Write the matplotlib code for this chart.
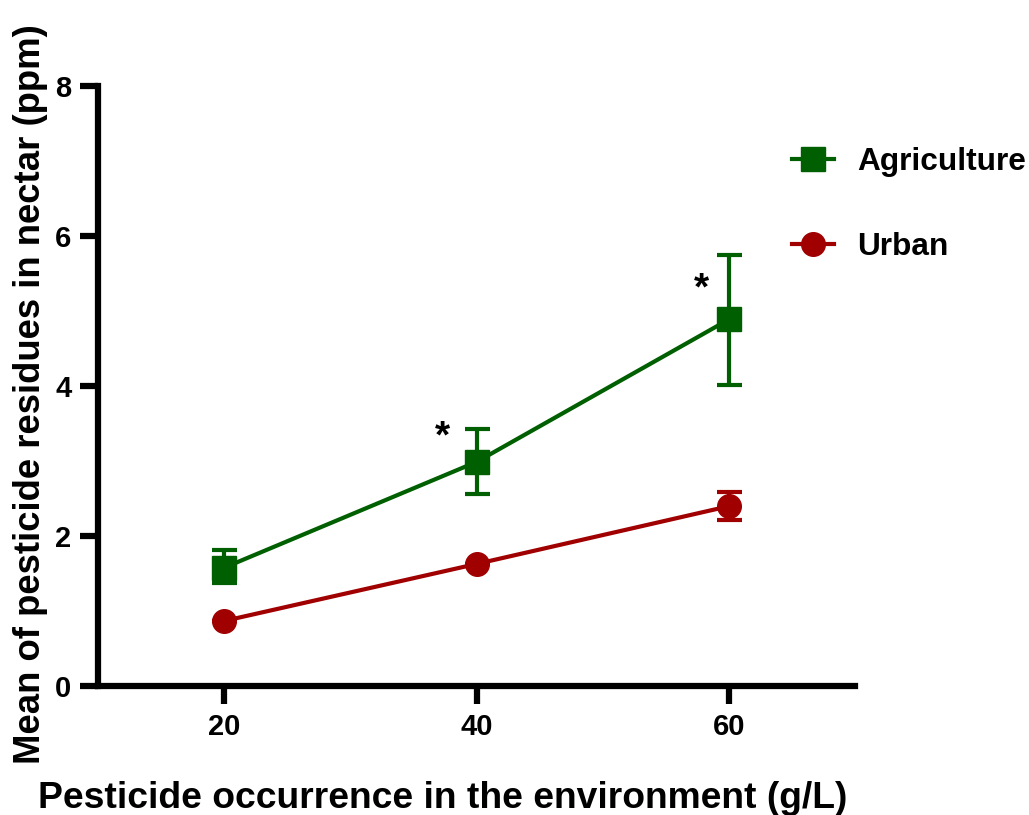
import numpy as np
import matplotlib
matplotlib.use("Agg")
import matplotlib.pyplot as plt
from matplotlib.lines import Line2D

plt.rcParams["font.family"] = ["Liberation Sans", "DejaVu Sans"]
plt.rcParams["font.weight"] = "bold"

occurrence = [20, 40, 60]
agri_mean = [1.58, 2.99, 4.89]
agri_err_low = [0.21, 0.43, 0.88]
agri_err_high = [0.23, 0.44, 0.86]
urban_mean = [0.87, 1.63, 2.40]
urban_err_low = [0.0, 0.0, 0.19]
urban_err_high = [0.0, 0.0, 0.19]

# significance stars (x, y) next to the agriculture points
stars = [(37.3, 3.32), (57.8, 5.29)]

green = "#005f00"
red = "#a00000"

fig = plt.figure(figsize=(10.29, 8.15), dpi=100)
ax = fig.add_axes([0.0952, 0.158, 0.736, 0.7365])

ax.errorbar(occurrence, agri_mean, yerr=[agri_err_low, agri_err_high],
            fmt="-s", color=green, lw=3, ms=17, elinewidth=3, capsize=9,
            capthick=3, zorder=3)
ax.errorbar(occurrence, urban_mean, yerr=[urban_err_low, urban_err_high],
            fmt="-o", color=red, lw=3, ms=17, elinewidth=3, capsize=9,
            capthick=3, zorder=3)

for sx, sy in stars:
    ax.text(sx, sy, "*", fontsize=28, fontweight="bold", ha="center", va="center")

ax.set_xlim(10, 70)
ax.set_ylim(0, 8)
ax.set_xticks([20, 40, 60])
ax.set_yticks([0, 2, 4, 6, 8])

for side in ["top", "right"]:
    ax.spines[side].set_visible(False)
for side in ["left", "bottom"]:
    ax.spines[side].set_linewidth(4.5)
    ax.spines[side].set_capstyle("projecting")

ax.tick_params(axis="both", direction="out", length=13, width=4.5,
               labelsize=21, pad=6)
for lab in ax.get_xticklabels() + ax.get_yticklabels():
    lab.set_fontweight("bold")

ax.set_xlabel("Pesticide occurrence in the environment (g/L)",
              fontsize=26.8, fontweight="bold")
ax.set_ylabel("Mean of pesticide residues in nectar (ppm)",
              fontsize=26.3, fontweight="bold")
ax.xaxis.set_label_coords(0.455, -0.158)
ax.yaxis.set_label_coords(-0.066, 0.487)

handles = [
    Line2D([], [], color=green, marker="s", ms=17, lw=3),
    Line2D([], [], color=red, marker="o", ms=17, lw=3),
]
fig.legend(handles, ["Agriculture", "Urban"], loc="upper left",
           bbox_to_anchor=(0.754, 0.839), frameon=False, borderpad=0,
           handlelength=1.35, handletextpad=0.72, labelspacing=1.75,
           prop={"weight": "bold", "size": 22.8})

fig.savefig("out.png", dpi=100)
